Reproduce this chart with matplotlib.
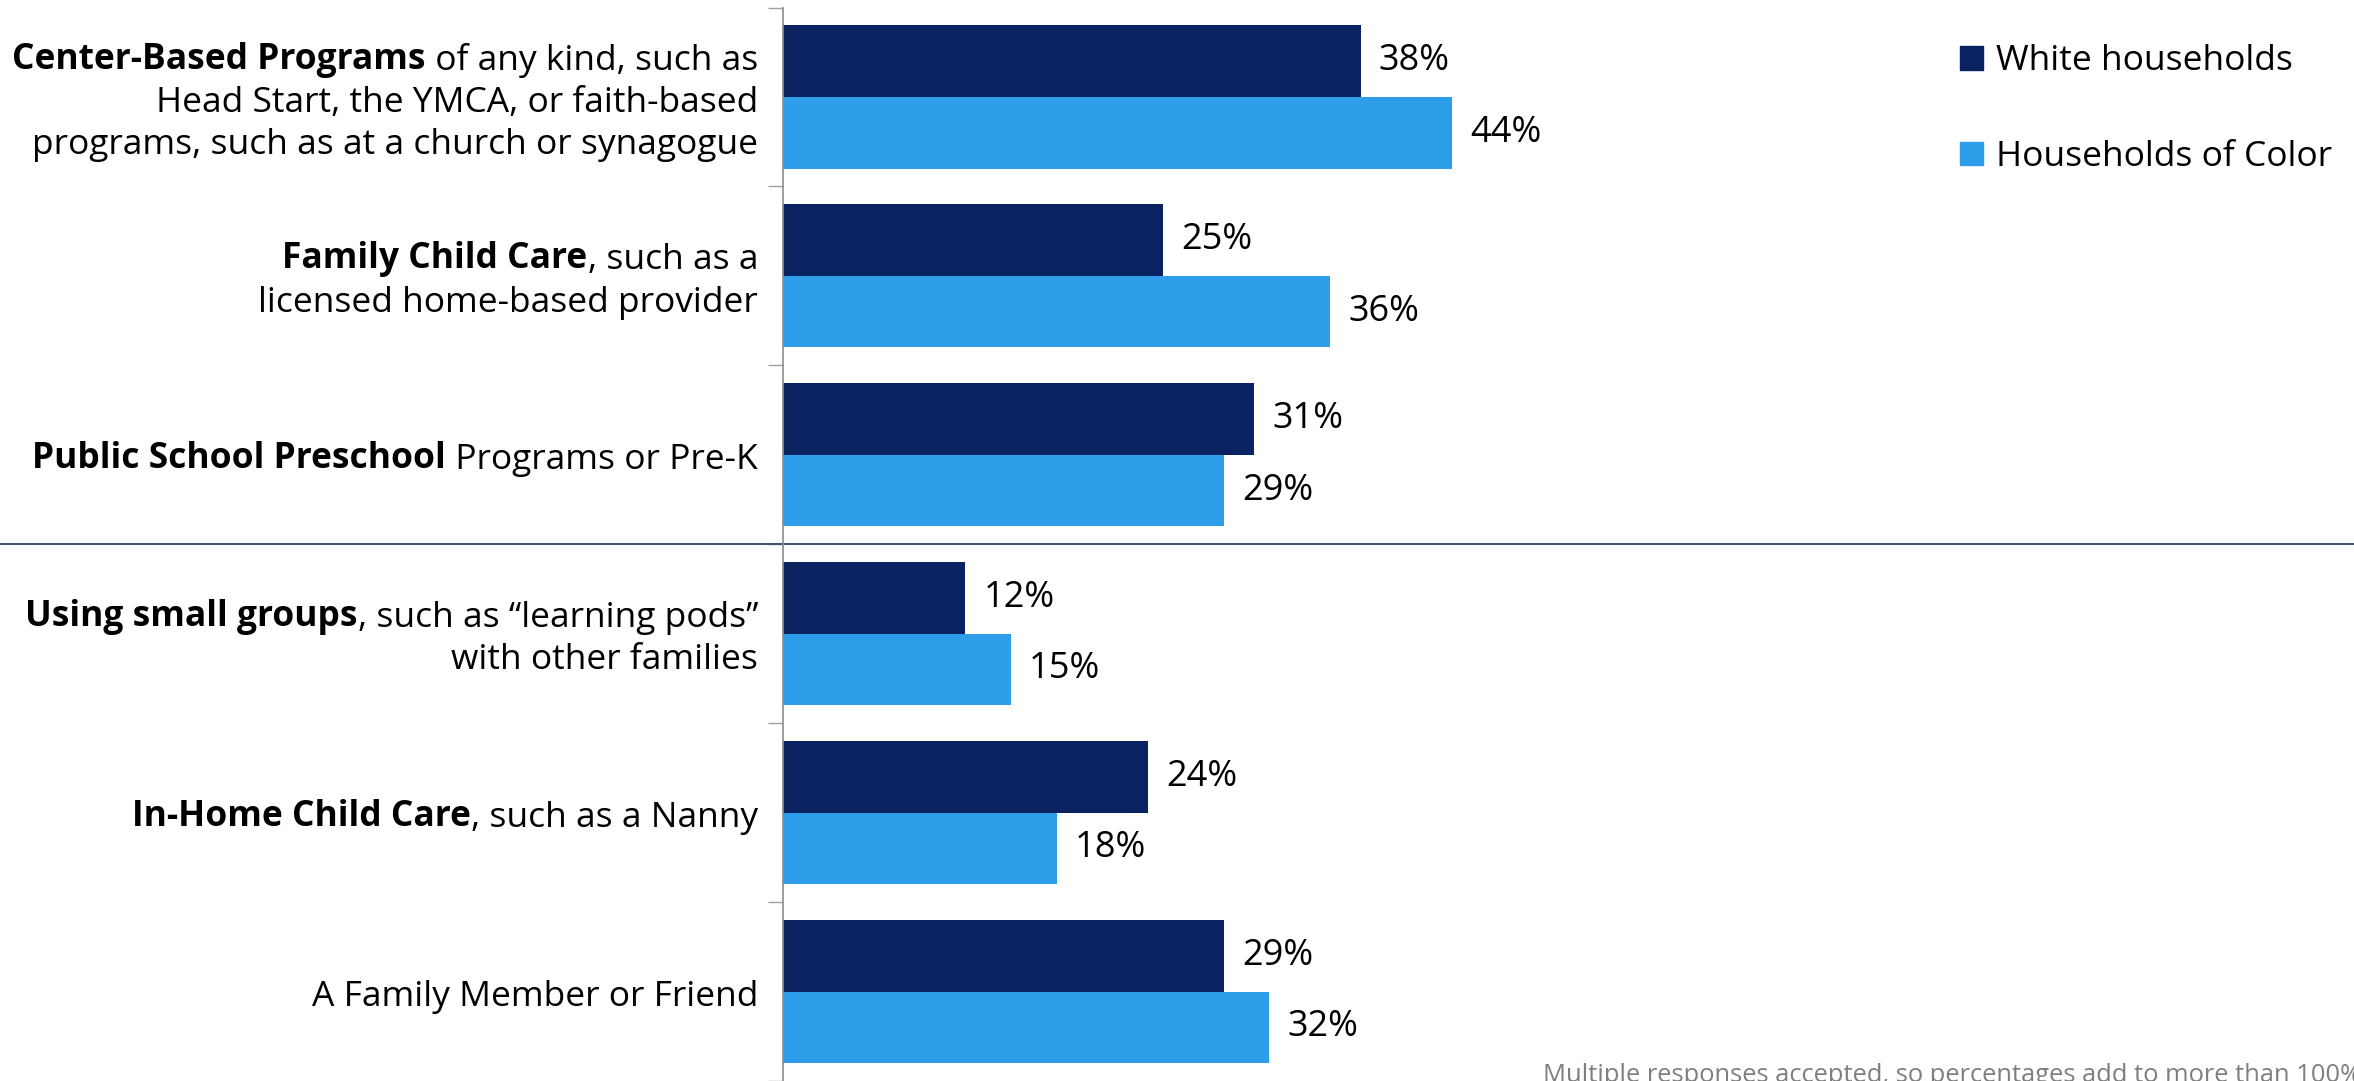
import matplotlib
matplotlib.use("Agg")
import matplotlib.pyplot as plt
import matplotlib.transforms as mtransforms
from matplotlib.patches import Patch

plt.rcParams['font.family'] = ['Open Sans', 'DejaVu Sans']

# label lines: (bold part, regular part) per line
labels = [
    [("Center-Based Programs", " of any kind, such as"),
     ("", "Head Start, the YMCA, or faith-based"),
     ("", "programs, such as at a church or synagogue")],
    [("Family Child Care", ", such as a"),
     ("", "licensed home-based provider")],
    [("Public School Preschool", " Programs or Pre-K")],
    [("Using small groups", ", such as \u201clearning pods\u201d"),
     ("", "with other families")],
    [("In-Home Child Care", ", such as a Nanny")],
    [("", "A Family Member or Friend")],
]
white = [38, 25, 31, 12, 24, 29]
color_hh = [44, 36, 29, 15, 18, 32]
series_names = ["White households", "Households of Color"]
note = "Multiple responses accepted, so percentages add to more than 100%"

navy = "#0A2360"
sky = "#2E9DEA"
fs = 25.5

fig = plt.figure(figsize=(23.54, 10.81), dpi=100)
ax = fig.add_axes([783 / 2354, 0.0, 1 - 783 / 2354, 1 - 7.5 / 1081])

pos = list(range(len(labels)))
h = 0.4
ax.barh([p - h / 2 for p in pos], white, height=h, color=navy)
ax.barh([p + h / 2 for p in pos], color_hh, height=h, color=sky)

for p, v in zip(pos, white):
    ax.annotate(f"{v}%", (v, p - h / 2), xytext=(13, 0), textcoords="offset points",
                va="center", ha="left", fontsize=26)
for p, v in zip(pos, color_hh):
    ax.annotate(f"{v}%", (v, p + h / 2), xytext=(13, 0), textcoords="offset points",
                va="center", ha="left", fontsize=26)

ax.set_xlim(0, (2354 - 783) / 15.2)
ax.set_ylim(len(labels) - 0.5, -0.5)
ax.set_xticks([])
ax.set_yticks([p - 0.5 for p in pos] + [len(labels) - 0.5])
ax.set_yticklabels([])
ax.tick_params(axis="y", length=10.8, width=1.0, color="#A0A0A0")
for s in ["top", "right", "bottom"]:
    ax.spines[s].set_visible(False)
ax.spines["left"].set_color("#8C8C8C")
ax.spines["left"].set_linewidth(1.2)

# category labels, right aligned, bold lead-in
line_gap = 30.5
for p, lines in zip(pos, labels):
    n = len(lines)
    for i, (bold, reg) in enumerate(lines):
        dy = ((n - 1) / 2 - i) * line_gap - 4
        t = ax.annotate(reg, (0, p), xytext=(-18, dy), textcoords="offset points",
                        ha="right", va="center", fontsize=fs,
                        annotation_clip=False)
        if bold:
            ax.annotate(bold, (0, 0), xycoords=t, ha="right", va="bottom",
                        fontsize=fs, fontweight="bold")

# separator between the two groups, across the whole figure
trans = mtransforms.blended_transform_factory(fig.transFigure, ax.transData)
ax.plot([0, 1], [2.5, 2.5], transform=trans, color="#44546A", lw=1.5, clip_on=False)

handles = [Patch(color=navy), Patch(color=sky)]
fig.legend(handles, series_names, loc="upper left", bbox_to_anchor=(1960 / 2354, 1 - 44 / 1081),
           frameon=False, fontsize=fs, handlelength=0.66, handleheight=0.66,
           handletextpad=0.35, labelspacing=1.75, borderaxespad=0, borderpad=0)

fig.text(1543 / 2354, 1 - 1063 / 1081, note, fontsize=18.4, color="#7F7F7F", va="top")

fig.savefig("out.png", dpi=100)
